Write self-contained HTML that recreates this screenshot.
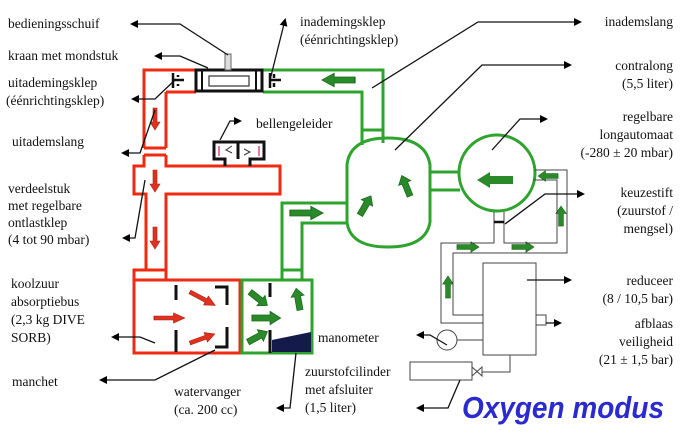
<!DOCTYPE html>
<html><head><meta charset="utf-8"><style>
html,body{margin:0;padding:0;background:#fff;}
svg{display:block;}
text{font-family:"Liberation Serif",serif;font-size:13.5px;fill:#111;}
.r{text-anchor:end;}
</style></head><body>
<svg width="680" height="434" viewBox="0 0 680 434" xmlns="http://www.w3.org/2000/svg">
<defs>
<marker id="ah" markerWidth="8" markerHeight="8" refX="6" refY="4" orient="auto" markerUnits="userSpaceOnUse"><path d="M0,0 L8,4 L0,8 Z" fill="#000"/></marker>
<g id="ga"><polygon points="0,-3 14,-3 14,-6.5 22,0 14,6.5 14,3 0,3" fill="#2a8a2a" stroke="#1c6a1c" stroke-width="0.8"/></g>
<g id="ra"><polygon points="0,-2 14,-2 14,-5 22,0 14,5 14,2 0,2" fill="#e03020" stroke="#b02010" stroke-width="0.6"/></g>
</defs>

<!-- RED circuit -->
<g fill="none" stroke="#ee2a10" stroke-width="3">
<path d="M196,70 H144 V148 M166,92 H196 M166,92 V148"/>
<path d="M144,148 H166 M144,155 H166"/>
<path d="M144,155 V166 H134 V194 H146 V270 H134 V280 M166,155 V166 H280 V194 H166 V270 H166"/>
<path d="M146,270 H166 M166,270 V280"/>
<rect x="134" y="280" width="106" height="73"/>
</g>
<!-- GREEN circuit -->
<g fill="none" stroke="#2ea32e" stroke-width="3">
<path d="M263,70 H383 V130 M263,92 H362 V130"/>
<path d="M362,130 H383"/>
<path d="M362,130 V145 M383,130 V143"/>
<path d="M347,165 Q350,138 388,138 Q426,138 430,165 V222 Q426,247 388,247 Q350,247 347,222 Z"/>
<path d="M347,203 H282 V270 M347,223 H302 V270"/>
<path d="M282,270 H302"/>
<rect x="242" y="280" width="70" height="73"/>
<path d="M282,270 V280 M302,270 V280"/>
<path d="M430,172 H460 M430,190 H460"/>
<circle cx="497" cy="173" r="38"/>
</g>
<!-- black kraan -->
<rect x="196" y="70" width="66" height="21" fill="#fff" stroke="#111" stroke-width="3"/>
<rect x="209" y="76" width="40" height="10" fill="#fff" stroke="#333" stroke-width="1.2"/>
<rect x="225" y="54" width="6" height="16" fill="#ddd" stroke="#666" stroke-width="1"/>
<path d="M202,70 V91 M256,70 V91" stroke="#111" stroke-width="2"/>
<!-- valves -->
<path d="M173,73 V88 M173,80 H184 M178,75 V77 M178,84 V86" stroke="#111" stroke-width="2.5" fill="none"/>
<path d="M270,73 V88 M270,80 H281 M274,74 V78 M274,83 V87" stroke="#111" stroke-width="2.5" fill="none"/>
<!-- bellengeleider -->
<path d="M225,166 V159 H214 V142 H264 V159 H250 V166" fill="none" stroke="#111" stroke-width="3"/>
<path d="M238,142 V159" stroke="#111" stroke-width="3"/>
<path d="M219,146 V156 M259,146 V156" stroke="#e07aa0" stroke-width="2"/>
<path d="M232,146 L226,150 L232,153 M244,149 L250,152 L244,155" stroke="#333" stroke-width="1" fill="none"/>
<!-- box internals -->
<g stroke="#111" stroke-width="3" fill="none">
<path d="M176,285 V300 M176,330 V352"/>
<path d="M215,287 H227 V305 M227,327 V347 H215"/>
<path d="M270,283 V297 M270,330 V353"/>
</g>
<polygon points="272,352 272,340 311,332 311,352" fill="#141a4a"/>

<!-- red arrows -->
<use href="#ra" transform="translate(155,108) rotate(90)"/>
<use href="#ra" transform="translate(155,170) rotate(90)"/>
<use href="#ra" transform="translate(155,227) rotate(90)"/>
<use href="#ra" transform="translate(154,318) scale(1.4,1)"/>
<use href="#ra" transform="translate(190,292) rotate(28) scale(1.3,1)"/>
<use href="#ra" transform="translate(190,343) rotate(-20) scale(1.2,1)"/>
<!-- green arrows -->
<use href="#ga" transform="translate(355,80) rotate(180) scale(1.5,1)"/>
<use href="#ga" transform="translate(290,213) scale(1.5,1)"/>
<use href="#ga" transform="translate(250,292) rotate(38)"/>
<use href="#ga" transform="translate(252,318) scale(1.3,1)"/>
<use href="#ga" transform="translate(248,342) rotate(-28)"/>
<use href="#ga" transform="translate(300,310) rotate(-100)"/>
<use href="#ga" transform="translate(360,215) rotate(-60)"/>
<use href="#ga" transform="translate(410,196) rotate(-112)"/>
<polygon points="513,176 490,176 490,172 477,180 490,188 490,184 513,184" fill="#2a8a2a"/>
<use href="#ga" transform="translate(558,176) rotate(180) scale(0.9,0.8)"/>
<use href="#ga" transform="translate(561,226) rotate(-90) scale(0.9,0.8)"/>
<use href="#ga" transform="translate(457,247) scale(1,0.8)"/>
<use href="#ga" transform="translate(512,247) scale(1,0.8)"/>
<use href="#ga" transform="translate(448,298) rotate(-90) scale(1,0.8)"/>

<!-- gray oxygen lines -->
<g stroke="#444" stroke-width="1" fill="none">
<path d="M494,212 V243 H441 V323 H483 M504,212 V243 H557 V180 H533 M535,170 H567 V253 H453 V315 H483"/>
<rect x="483" y="263" width="53" height="92"/>
<rect x="536" y="315" width="10" height="10"/>
<circle cx="447" cy="340" r="10"/>
<path d="M457,340 H483 M510,355 V372 H482"/>
<rect x="410" y="362" width="62" height="18"/>
<path d="M472,367 L482,376 V367 L472,376 Z"/>
</g>
<path d="M494,222 H504" stroke="#111" stroke-width="2.5"/>

<!-- leader lines -->
<g stroke="#111" stroke-width="1.3" fill="none" marker-end="url(#ah)">
<path d="M228,55 L180,24 H132"/>
<path d="M208,68 L180,56 H156"/>
<path d="M176,79 L155,99 H133"/>
<path d="M155,110 L140,153 H123"/>
<path d="M145,180 L135,238 H124"/>
<path d="M155,343 L140,337 H113"/>
<path d="M215,350 L155,380 H101"/>
<path d="M296,353 L290,408 H278"/>
<path d="M270,80 L285,20"/>
<path d="M220,140 L230,121 H240"/>
<path d="M372,88 L478,22 H580"/>
<path d="M395,150 L482,65 H570"/>
<path d="M492,150 L520,119 H546"/>
<path d="M505,224 L545,194 H583"/>
<path d="M527,280 H570"/>
<path d="M546,323 H560"/>
<path d="M447,345 L430,335 H418"/>
<path d="M460,380 L448,408 H418"/>
</g>

<!-- labels left -->
<text x="8" y="28">bedieningsschuif</text>
<text x="8" y="60">kraan met mondstuk</text>
<text x="8" y="87">uitademingsklep</text>
<text x="6" y="105">(éénrichtingsklep)</text>
<text x="12" y="146">uitademslang</text>
<text x="8" y="193">verdeelstuk</text>
<text x="8" y="210">met regelbare</text>
<text x="8" y="227">ontlastklep</text>
<text x="8" y="244">(4 tot 90 mbar)</text>
<text x="11" y="288">koolzuur</text>
<text x="11" y="306">absorptiebus</text>
<text x="11" y="324">(2,3 kg DIVE</text>
<text x="11" y="342">SORB)</text>
<text x="12" y="386">manchet</text>
<text x="174" y="396">watervanger</text>
<text x="174" y="414">(ca. 200 cc)</text>
<text x="318" y="342">manometer</text>
<text x="305" y="376">zuurstofcilinder</text>
<text x="305" y="394">met afsluiter</text>
<text x="305" y="412">(1,5 liter)</text>
<text x="300" y="26">inademingsklep</text>
<text x="300" y="44">(éénrichtingsklep)</text>
<text x="256" y="128">bellengeleider</text>
<!-- labels right -->
<text class="r" x="673" y="26">inademslang</text>
<text class="r" x="673" y="70">contralong</text>
<text class="r" x="673" y="88">(5,5 liter)</text>
<text class="r" x="673" y="121">regelbare</text>
<text class="r" x="673" y="139">longautomaat</text>
<text class="r" x="673" y="157">(-280 ± 20 mbar)</text>
<text class="r" x="673" y="197">keuzestift</text>
<text class="r" x="673" y="215">(zuurstof /</text>
<text class="r" x="673" y="233">mengsel)</text>
<text class="r" x="673" y="285">reduceer</text>
<text class="r" x="673" y="303">(8 / 10,5 bar)</text>
<text class="r" x="673" y="328">afblaas</text>
<text class="r" x="673" y="346">veiligheid</text>
<text class="r" x="673" y="364">(21 ± 1,5 bar)</text>
<text x="462" y="418" textLength="202" lengthAdjust="spacingAndGlyphs" style="font-family:'Liberation Sans',sans-serif;font-size:31px;font-style:italic;font-weight:bold;fill:#2a2ad0">Oxygen modus</text>
</svg>
</body></html>
